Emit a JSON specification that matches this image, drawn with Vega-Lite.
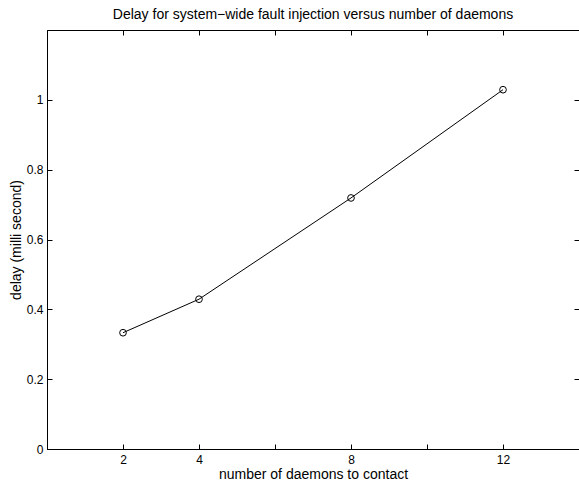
{
  "$schema": "https://vega.github.io/schema/vega-lite/v6.json",
  "width": 532,
  "height": 419,
  "autosize": {"type": "none"},
  "padding": {"left": 47, "top": 30, "right": 0, "bottom": 33},
  "background": "white",
  "title": {
    "text": "Delay for system−wide fault injection versus number of daemons",
    "font": "Liberation Sans",
    "fontSize": 14,
    "fontWeight": "normal",
    "color": "black",
    "anchor": "middle",
    "baseline": "bottom",
    "offset": 9,
    "dy": 15
  },
  "config": {
    "view": {"stroke": "black", "strokeWidth": 1},
    "axis": {
      "labelFont": "Liberation Sans",
      "titleFont": "Liberation Sans",
      "labelFontSize": 12,
      "titleFontSize": 14,
      "titleFontWeight": "normal",
      "labelColor": "black",
      "titleColor": "black",
      "domainColor": "black",
      "tickColor": "black",
      "grid": false
    }
  },
  "data": {
    "values": [
      {"daemons": 2, "delay": 0.333},
      {"daemons": 4, "delay": 0.429},
      {"daemons": 8, "delay": 0.719},
      {"daemons": 12, "delay": 1.029}
    ]
  },
  "layer": [
    {
      "mark": {"type": "line", "color": "black", "strokeWidth": 1},
      "encoding": {
        "x": {
          "field": "daemons",
          "type": "quantitative",
          "scale": {"domain": [0, 14], "nice": false, "zero": false},
          "axis": {
            "title": "number of daemons to contact",
            "values": [2, 4, 6, 8, 10, 12],
            "labelExpr": "datum.value == 6 || datum.value == 10 ? '' : datum.label",
            "tickSize": -5,
            "labelPadding": 10,
            "titlePadding": 2
          }
        },
        "y": {
          "field": "delay",
          "type": "quantitative",
          "scale": {"domain": [0, 1.2], "nice": false},
          "axis": {
            "title": "delay (milli second)",
            "values": [0, 0.2, 0.4, 0.6, 0.8, 1],
            "format": "~g",
            "tickSize": -5,
            "labelPadding": 9,
            "titlePadding": 3
          }
        }
      }
    },
    {
      "mark": {"type": "point", "shape": "circle", "filled": false, "color": "black", "size": 45, "strokeWidth": 1, "opacity": 1},
      "encoding": {
        "x": {"field": "daemons", "type": "quantitative", "axis": null},
        "y": {"field": "delay", "type": "quantitative", "axis": null}
      }
    },
    {
      "mark": {"type": "point", "opacity": 0},
      "encoding": {
        "x": {
          "field": "daemons",
          "type": "quantitative",
          "axis": {"orient": "top", "title": null, "labels": false, "values": [2, 4, 6, 8, 10, 12], "tickSize": -5}
        },
        "y": {
          "field": "delay",
          "type": "quantitative",
          "axis": {"orient": "right", "title": null, "labels": false, "values": [0.2, 0.4, 0.6, 0.8, 1], "tickSize": -5}
        }
      }
    }
  ],
  "resolve": {"axis": {"x": "independent", "y": "independent"}}
}
